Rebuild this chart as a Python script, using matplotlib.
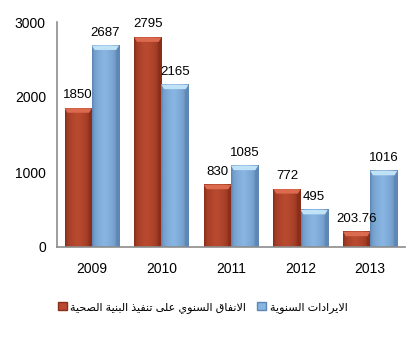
import numpy as np
import matplotlib
matplotlib.use("Agg")
import matplotlib.pyplot as plt
from matplotlib.patches import Patch, Polygon
from matplotlib.colors import to_rgb

plt.rcParams['font.family'] = ['Liberation Sans', 'DejaVu Sans']

years = ['2009', '2010', '2011', '2012', '2013']
spending = [1850, 2795, 830, 772, 203.76]
revenue = [2687, 2165, 1085, 495, 1016]
spending_labels = ['1850', '2795', '830', '772', '203.76']
revenue_labels = ['2687', '2165', '1085', '495', '1016']
spending_name = 'الانفاق السنوي على تنفيذ البنية الصحية'
revenue_name = 'الايرادات السنوية'

# --- minimal Arabic shaping (presentation forms + right-to-left order) ---
FORMS = {  # isolated, final, initial, medial
    'ا': (0xFE8D, 0xFE8E, None, None),
    'ب': (0xFE8F, 0xFE90, 0xFE91, 0xFE92),
    'ة': (0xFE93, 0xFE94, None, None),
    'ت': (0xFE95, 0xFE96, 0xFE97, 0xFE98),
    'ح': (0xFEA1, 0xFEA2, 0xFEA3, 0xFEA4),
    'د': (0xFEA9, 0xFEAA, None, None),
    'ذ': (0xFEAB, 0xFEAC, None, None),
    'ر': (0xFEAD, 0xFEAE, None, None),
    'س': (0xFEB1, 0xFEB2, 0xFEB3, 0xFEB4),
    'ص': (0xFEB9, 0xFEBA, 0xFEBB, 0xFEBC),
    'ع': (0xFEC9, 0xFECA, 0xFECB, 0xFECC),
    'ف': (0xFED1, 0xFED2, 0xFED3, 0xFED4),
    'ق': (0xFED5, 0xFED6, 0xFED7, 0xFED8),
    'ل': (0xFEDD, 0xFEDE, 0xFEDF, 0xFEE0),
    'ن': (0xFEE5, 0xFEE6, 0xFEE7, 0xFEE8),
    'و': (0xFEED, 0xFEEE, None, None),
    'ى': (0xFEEF, 0xFEF0, None, None),
    'ي': (0xFEF1, 0xFEF2, 0xFEF3, 0xFEF4),
    'LA': (0xFEFB, 0xFEFC, None, None),
}


def shape_word(word):
    units = []
    i = 0
    while i < len(word):
        if word[i] == 'ل' and i + 1 < len(word) and word[i + 1] == 'ا':
            units.append('LA')
            i += 2
        else:
            units.append(word[i])
            i += 1
    out = []
    for k, u in enumerate(units):
        f = FORMS[u]
        prev_joins = k > 0 and FORMS[units[k - 1]][2] is not None
        next_joins = k + 1 < len(units) and f[2] is not None
        if prev_joins and next_joins:
            code = f[3]
        elif prev_joins:
            code = f[1]
        elif next_joins:
            code = f[2]
        else:
            code = f[0]
        out.append(chr(code))
    return ''.join(out)


def arabic(text):
    shaped = ' '.join(shape_word(w) for w in text.split(' '))
    return shaped[::-1]


def gradient_bar(ax, x0, width, height, base, dark, light):
    # horizontal shading across the bar body
    b = np.array(to_rgb(base))
    d = np.array(to_rgb(dark))
    t = np.linspace(0, 1, 60)
    prof = np.clip(1 - np.abs(t - 0.45) * 2.4, 0, 1) ** 0.35
    cols = d[None, :] + (b - d)[None, :] * prof[:, None]
    img = cols[None, :, :]
    ax.imshow(img, extent=(x0, x0 + width, 0, height), aspect='auto',
              zorder=2, interpolation='bilinear')
    # bevelled top edge
    bev = min(60, height * 0.4)
    inset = width * 0.1
    ax.add_patch(Polygon([(x0, height), (x0 + width, height),
                          (x0 + width - inset, height - bev),
                          (x0 + inset, height - bev)],
                         closed=True, facecolor=light, edgecolor='none', zorder=3))


red, red_dark, red_light = '#b94a30', '#8a2e1a', '#dc6a4e'
blue, blue_dark, blue_light = '#88b5e2', '#5f87b6', '#bfe2f6'

fig = plt.figure(figsize=(4.14, 3.42), dpi=100)
ax = fig.add_axes([57 / 414, 95 / 342, 348 / 414, 225 / 342])

x = np.arange(len(years))
w = 0.39
for i in range(len(years)):
    gradient_bar(ax, x[i] - w, w, spending[i], red, red_dark, red_light)
    gradient_bar(ax, x[i], w, revenue[i], blue, blue_dark, blue_light)
    ax.annotate(spending_labels[i], (x[i] - w / 2, spending[i]),
                xytext=(0, 5), textcoords='offset points',
                ha='center', va='bottom', fontsize=9.5)
    ax.annotate(revenue_labels[i], (x[i] + w / 2, revenue[i]),
                xytext=(0, 5), textcoords='offset points',
                ha='center', va='bottom', fontsize=9.5)

ax.set_xlim(-0.5, len(years) - 0.5)
ax.set_ylim(0, 3000)
ax.set_yticks([0, 1000, 2000, 3000])
ax.set_xticks(x)
ax.set_xticklabels(years)
ax.tick_params(length=0, labelsize=10, pad=11)
ax.tick_params(axis='y', pad=8)
for s in ['top', 'right']:
    ax.spines[s].set_visible(False)
for s in ['left', 'bottom']:
    ax.spines[s].set_color('#8c8c8c')
    ax.spines[s].set_linewidth(1.2)

handles = [Patch(facecolor=red, edgecolor=red_dark, label=arabic(spending_name)),
           Patch(facecolor=blue, edgecolor=blue_dark, label=arabic(revenue_name))]
fig.legend(handles=handles, loc='center', bbox_to_anchor=(0.49, 0.102), ncol=2,
           frameon=False, fontsize=8, handlelength=0.8, handleheight=0.8,
           handletextpad=0.3, columnspacing=1.0)

fig.savefig('out.png', dpi=100)
